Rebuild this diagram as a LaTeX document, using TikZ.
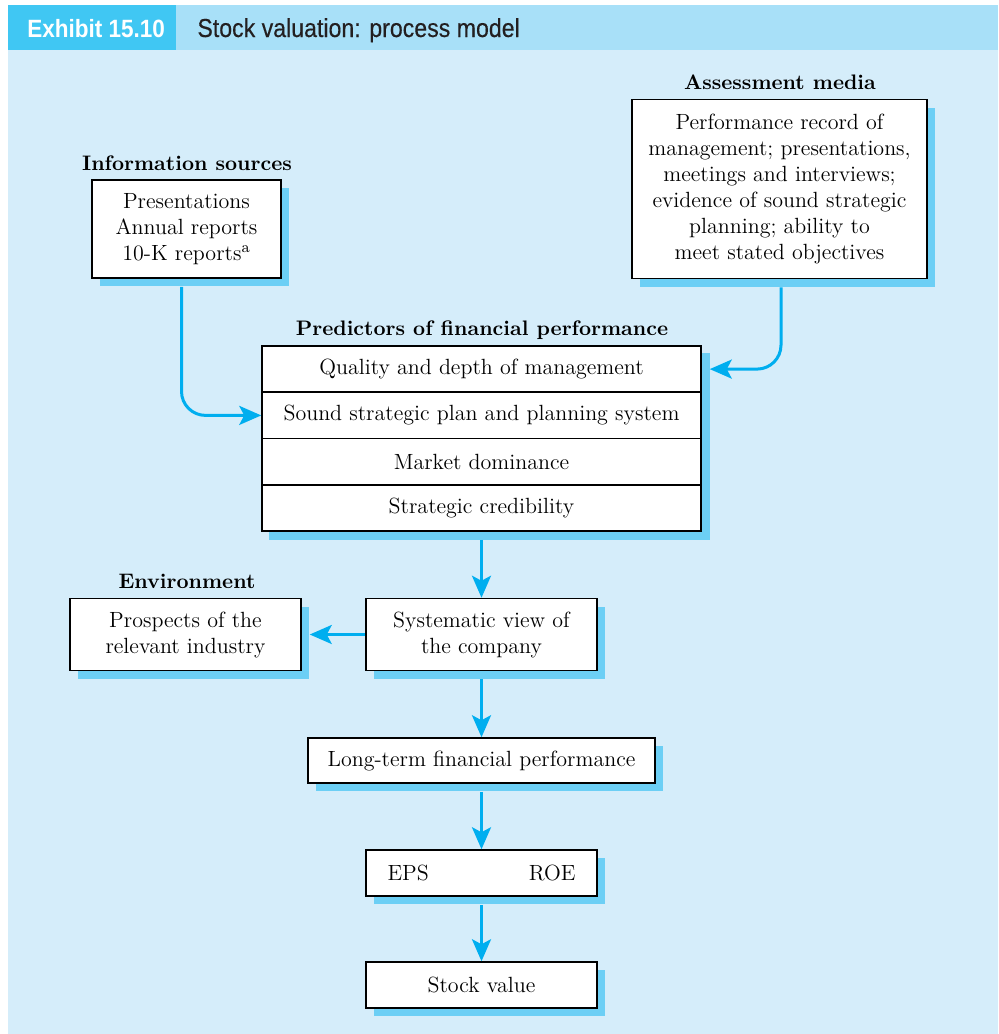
\documentclass[tikz,border=0pt]{standalone}
\usepackage{fontspec}
\newfontfamily\exhfont[FakeStretch=0.9]{Liberation Sans}
\newfontfamily\ttlfont[FakeStretch=0.89, FakeBold=0.3]{Liberation Sans}
\usetikzlibrary{arrows.meta, shadows, backgrounds}
\definecolor{pagebg}{RGB}{213,237,250}
\definecolor{bandblue}{RGB}{168,224,248}
\definecolor{tabblue}{RGB}{64,199,243}
\definecolor{shadowblue}{RGB}{108,207,245}
\definecolor{arrowblue}{RGB}{0,174,239}
\definecolor{inkgrey}{RGB}{35,31,32}
\newcommand{\bodyfont}{\fontsize{11}{13}\selectfont}
\tikzset{
  box/.style={draw, fill=white, line width=0.75pt, align=center, inner sep=0pt,
    font=\bodyfont, drop shadow={shadow xshift=4pt, shadow yshift=-4pt, fill=shadowblue, opacity=1}},
  rowbox/.style={draw, fill=white, line width=0.75pt, inner sep=0pt,
    minimum width=219.5pt, minimum height=23.1pt, font=\bodyfont},
  heading/.style={anchor=base, inner sep=0pt, font=\fontsize{10.5}{13}\selectfont\bfseries},
  flow/.style={draw=arrowblue, line width=1.5pt, -{Stealth[length=11pt,width=9.5pt,inset=2.5pt]}},
}
\begin{document}
\begin{tikzpicture}[x=0.5pt, y=-0.5pt]
\useasboundingbox (0,0) rectangle (998,1034);
\begin{scope}[on background layer]
  \fill[pagebg] (8,50) rectangle (998,1034);
\end{scope}
% title band
\fill[bandblue] (8,5) rectangle (998,50);
\fill[tabblue] (8,5) rectangle (176,50);
\node[anchor=base west, inner sep=0pt, text=white, font=\exhfont\bfseries\fontsize{12.5}{14}\selectfont] (exh) at (27,37) {Exhibit 15.10};
\node[anchor=base west, inner sep=0pt, text=inkgrey, font=\ttlfont\fontsize{13}{15}\selectfont] (title) at (197,37) {Stock valuation: process model};

% inputs
\node[box, minimum width=94.5pt, minimum height=49pt] (info) at (186.5,229) {Presentations\\Annual reports\\10-K reports\textsuperscript{a}};
\node[heading] (infohd) at (187,170) {Information sources};
\node[box, minimum width=147.5pt, minimum height=89.5pt] (assess) at (779.5,189) {Performance record of\\management; presentations,\\meetings and interviews;\\evidence of sound strategic\\planning; ability to\\meet stated objectives};
\node[heading] (assesshd) at (780,89) {Assessment media};

% predictors
\node[rowbox] (q1) at (481.5,369.1) {Quality and depth of management};
\node[rowbox] (q2) at (481.5,415.4) {Sound strategic plan and planning system};
\node[rowbox] (q3) at (481.5,461.6) {Market dominance};
\node[rowbox] (q4) at (481.5,507.9) {Strategic credibility};
\node[heading] (predhd) at (482,335) {Predictors of financial performance};
\begin{scope}[on background layer]
  \fill[shadowblue] ([shift={(4pt,-4pt)}]q1.north west) rectangle ([shift={(4pt,-4pt)}]q4.south east);
\end{scope}

% chain
\node[box, minimum width=115.5pt, minimum height=36pt] (prosp) at (185.5,634.5) {Prospects of the\\relevant industry};
\node[heading] (envhd) at (187,588) {Environment};
\node[box, minimum width=115.5pt, minimum height=36pt] (sysview) at (481.5,634.5) {Systematic view of\\the company};
\node[box, minimum width=173.5pt, minimum height=22.5pt] (longterm) at (481.5,760.5) {Long-term financial performance};
\node[box, minimum width=115.5pt, minimum height=23pt] (eps) at (481.5,873) {EPS\hspace{50pt}ROE};
\node[box, minimum width=115.5pt, minimum height=23pt] (stock) at (481.5,985) {Stock value};

% connectors
\draw[flow, rounded corners=12pt] ([xshift=-2.5pt,yshift=-4pt]info.south) |- (q2.west);
\draw[flow, rounded corners=12pt] ([xshift=0.75pt,yshift=-4pt]assess.south) |- ([xshift=4pt]q1.east);
\draw[flow] ([yshift=-4pt]q4.south) -- (sysview.north);
\draw[flow] (sysview.west) -- ([xshift=4pt]prosp.east);
\draw[flow] ([yshift=-4pt]sysview.south) -- (longterm.north);
\draw[flow] ([yshift=-4pt]longterm.south) -- (eps.north);
\draw[flow] ([yshift=-4pt]eps.south) -- (stock.north);
\end{tikzpicture}
\end{document}
